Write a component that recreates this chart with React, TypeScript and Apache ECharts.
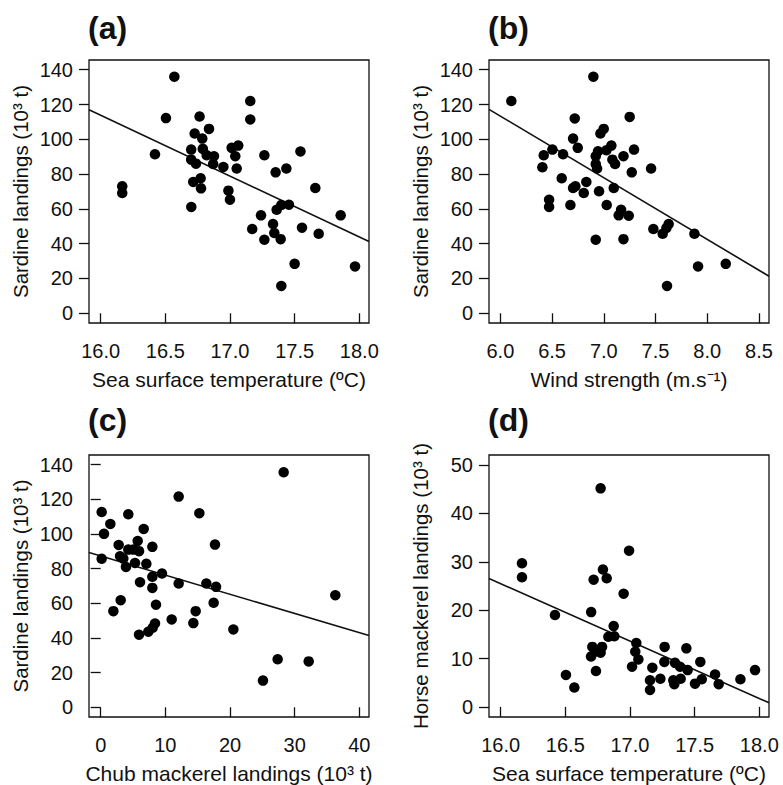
import React, { useEffect, useRef } from "react";
import * as echarts from "echarts";

// ---------- Data ----------
// (a) Sea surface temperature vs sardine landings
const sstA = [16.57, 16.505, 16.765, 17.157, 17.157, 16.838, 16.727, 16.786, 16.42, 16.7, 16.79, 16.82, 16.876, 16.7, 16.737, 16.87, 16.949, 17.013, 17.064, 17.041, 17.052, 17.266, 17.545, 17.353, 17.436, 17.66, 16.167, 16.167, 16.716, 16.773, 16.776, 16.988, 17.0, 16.701, 17.397, 17.456, 17.361, 17.24, 17.856, 17.172, 17.333, 17.343, 17.557, 17.686, 17.266, 17.392, 17.5, 17.967, 17.397];
const sardineA = [136.0, 112.2, 113.1, 122.0, 111.4, 106.0, 103.3, 100.4, 91.4, 94.1, 94.5, 90.8, 90.3, 88.3, 86.0, 85.8, 84.1, 95.1, 96.4, 90.3, 83.2, 90.8, 93.0, 81.0, 83.2, 72.0, 73.0, 69.1, 75.5, 77.6, 71.8, 70.5, 65.3, 61.1, 62.2, 62.4, 59.5, 56.3, 56.3, 48.4, 51.3, 46.1, 49.2, 45.7, 42.3, 42.6, 28.4, 26.9, 15.7];

// (b) Wind strength vs sardine landings
const windB = [6.899, 6.106, 6.719, 7.25, 6.999, 6.967, 6.703, 6.503, 6.748, 6.419, 6.606, 6.406, 6.944, 6.922, 7.025, 7.073, 7.083, 7.109, 7.19, 7.292, 6.922, 6.935, 7.27, 7.457, 6.593, 6.831, 6.725, 6.703, 6.806, 6.954, 7.096, 6.471, 6.471, 6.677, 7.028, 7.167, 7.144, 7.241, 7.627, 7.605, 7.479, 7.569, 7.876, 6.922, 7.19, 7.911, 8.179, 7.611];
const sardineB = [136.0, 122.0, 112.0, 112.9, 106.0, 103.3, 100.4, 94.1, 95.1, 90.8, 91.4, 83.9, 93.1, 90.3, 93.7, 96.4, 88.3, 85.8, 90.3, 94.1, 85.8, 83.2, 81.0, 83.2, 77.6, 75.5, 73.0, 72.0, 69.1, 70.1, 72.0, 65.3, 61.1, 62.2, 62.2, 59.5, 56.3, 56.1, 51.3, 49.0, 48.4, 45.7, 45.7, 42.3, 42.6, 26.9, 28.4, 15.7];

// (c) Chub mackerel landings vs sardine landings
const chubC = [28.3, 12.06, 0.15, 4.27, 15.26, 1.49, 0.51, 6.65, 2.78, 5.72, 4.27, 5.05, 5.93, 7.99, 17.68, 2.99, 0.15, 3.91, 5.31, 3.5, 7.06, 9.48, 7.99, 6.08, 7.99, 12.06, 16.34, 17.84, 36.29, 3.09, 1.96, 8.55, 17.47, 14.69, 10.98, 14.33, 20.52, 8.4, 8.04, 7.37, 5.93, 27.37, 32.17, 25.1];
const sardineC = [135.6, 121.6, 112.7, 111.4, 112.0, 105.8, 100.1, 102.9, 93.7, 96.0, 91.0, 91.0, 90.1, 92.6, 93.9, 87.2, 85.7, 81.0, 83.3, 85.8, 82.8, 77.2, 75.3, 72.2, 68.9, 71.4, 71.4, 69.5, 64.7, 61.8, 55.5, 59.2, 60.3, 55.5, 50.7, 48.6, 44.9, 48.4, 45.9, 43.6, 41.9, 27.7, 26.5, 15.4];

// (d) Sea surface temperature vs horse mackerel landings
const sstD = [16.773, 16.993, 16.165, 16.165, 16.791, 16.719, 16.82, 16.951, 16.42, 16.7, 16.874, 16.833, 16.879, 17.049, 17.041, 17.065, 17.016, 16.709, 16.784, 16.73, 16.773, 16.699, 16.737, 16.505, 16.57, 17.268, 17.436, 17.266, 17.173, 17.348, 17.387, 17.446, 17.544, 17.235, 17.155, 17.155, 17.335, 17.392, 17.343, 17.503, 17.555, 17.658, 17.686, 17.854, 17.967];
const horseD = [45.2, 32.3, 29.7, 26.8, 28.4, 26.3, 26.6, 23.4, 19.0, 19.6, 16.7, 14.5, 14.6, 13.2, 11.4, 9.8, 8.3, 12.4, 12.4, 11.4, 11.2, 10.4, 7.4, 6.6, 4.0, 12.4, 12.1, 9.3, 8.1, 9.1, 8.3, 7.6, 9.3, 5.8, 5.5, 3.5, 5.5, 5.8, 4.7, 4.8, 5.7, 6.7, 4.7, 5.7, 7.6];

// Regression lines: [intercept, slope]
const fitA = [673.9, -35.0];
const fitB = [325.9, -35.43];
const fitC = [87.3, -1.104];
const fitD = [215.4, -11.87];

// Tick values
const ticksSST = [16.0, 16.5, 17.0, 17.5, 18.0];
const ticksWind = [6.0, 6.5, 7.0, 7.5, 8.0, 8.5];
const ticksChub = [0, 10, 20, 30, 40];
const ticksSardine = [0, 20, 40, 60, 80, 100, 120, 140];
const ticksHorse = [0, 10, 20, 30, 40, 50];

// Labels
const panelLabels = ["(a)", "(b)", "(c)", "(d)"];
const xNames = [
  "Sea surface temperature (ºC)",
  "Wind strength (m.s⁻¹)",
  "Chub mackerel landings (10³ t)",
  "Sea surface temperature (ºC)",
];
const yNames = [
  "Sardine landings (10³ t)",
  "Sardine landings (10³ t)",
  "Sardine landings (10³ t)",
  "Horse mackerel landings (10³ t)",
];

const FONT = "'Liberation Sans', Arial, Helvetica, sans-serif";
const TXT = "#111";

function zip(xs: number[], ys: number[]) {
  return xs.map((x, i) => [x, ys[i]]);
}

function fitLine(fit: number[], min: number, max: number) {
  return [
    [min, fit[0] + fit[1] * min],
    [max, fit[0] + fit[1] * max],
  ];
}

export default function App() {
  const ref = useRef<HTMLDivElement>(null);

  useEffect(() => {
    if (!ref.current) return;
    const chart = echarts.init(ref.current, null, { renderer: "svg" });

    const grids = [
      { left: 89, top: 60, width: 280, height: 263 },
      { left: 489, top: 60, width: 280, height: 263 },
      { left: 89, top: 455, width: 280, height: 263 },
      { left: 489, top: 455, width: 280, height: 263 },
    ];

    const xr = [
      [15.91, 18.075],
      [5.89, 8.597],
      [-1.81, 41.5],
      [15.91, 18.075],
    ];
    const yr = [
      [-5.6, 145.6],
      [-5.6, 145.6],
      [-5.6, 145.6],
      [-2.1, 52.1],
    ];
    const xTicks = [ticksSST, ticksWind, ticksChub, ticksSST];
    const xDec = [1, 1, 0, 1];
    const yTicks = [ticksSardine, ticksSardine, ticksSardine, ticksHorse];

    const xAxes = grids.map((_, i) => ({
      type: "value",
      gridIndex: i,
      min: xr[i][0],
      max: xr[i][1],
      axisLine: { show: false },
      axisTick: {
        show: true,
        inside: false,
        length: 10,
        customValues: xTicks[i],
        lineStyle: { color: "#111", width: 1.3 },
      },
      axisLabel: {
        show: true,
        margin: 18,
        customValues: xTicks[i],
        formatter: (v: number) => v.toFixed(xDec[i]),
        color: TXT,
        fontSize: 20,
        fontFamily: FONT,
      },
      splitLine: { show: false },
      name: xNames[i],
      nameLocation: "middle",
      nameGap: 46,
      nameTextStyle: { color: TXT, fontSize: 21, fontFamily: FONT },
    }));

    const yAxes = grids.map((_, i) => ({
      type: "value",
      gridIndex: i,
      min: yr[i][0],
      max: yr[i][1],
      axisLine: { show: false },
      axisTick: {
        show: true,
        inside: false,
        length: 10,
        customValues: yTicks[i],
        lineStyle: { color: "#111", width: 1.3 },
      },
      axisLabel: {
        show: true,
        margin: 16,
        customValues: yTicks[i],
        formatter: (v: number) => String(v),
        color: TXT,
        fontSize: 20,
        fontFamily: FONT,
      },
      splitLine: { show: false },
      name: yNames[i],
      nameLocation: "middle",
      nameGap: 58,
      nameRotate: 90,
      nameTextStyle: { color: TXT, fontSize: 20.5, fontFamily: FONT },
    }));

    const scatterData = [zip(sstA, sardineA), zip(windB, sardineB), zip(chubC, sardineC), zip(sstD, horseD)];
    const fits = [fitA, fitB, fitC, fitD];

    const series: any[] = [];
    for (let i = 0; i < 4; i++) {
      series.push({
        type: "line",
        xAxisIndex: i,
        yAxisIndex: i,
        data: fitLine(fits[i], xr[i][0], xr[i][1]),
        showSymbol: false,
        symbol: "none",
        lineStyle: { color: "#111", width: 1.6 },
        silent: true,
        clip: true,
        z: 1,
      });
      series.push({
        type: "scatter",
        xAxisIndex: i,
        yAxisIndex: i,
        data: scatterData[i],
        symbol: "circle",
        symbolSize: 10.5,
        itemStyle: { color: "#000", opacity: 1 },
        z: 2,
      });
    }

    const titlePos = [
      { left: 88, top: 12 },
      { left: 488, top: 12 },
      { left: 88, top: 404 },
      { left: 488, top: 404 },
    ];

    chart.setOption({
      animation: false,
      backgroundColor: "#fff",
      title: panelLabels.map((t, i) => ({
        text: t,
        left: titlePos[i].left,
        top: titlePos[i].top,
        padding: 0,
        textStyle: { fontSize: 32, fontWeight: "bold", color: TXT, fontFamily: FONT },
      })),
      grid: grids.map((g) => ({
        ...g,
        show: true,
        borderColor: "#111",
        borderWidth: 1.3,
        backgroundColor: "transparent",
        containLabel: false,
      })),
      xAxis: xAxes,
      yAxis: yAxes,
      series,
    });

    return () => {
      chart.dispose();
    };
  }, []);

  return (
    <div
      ref={ref}
      style={{ position: "absolute", left: 0, top: 0, width: 783, height: 785, background: "#fff" }}
    />
  );
}
